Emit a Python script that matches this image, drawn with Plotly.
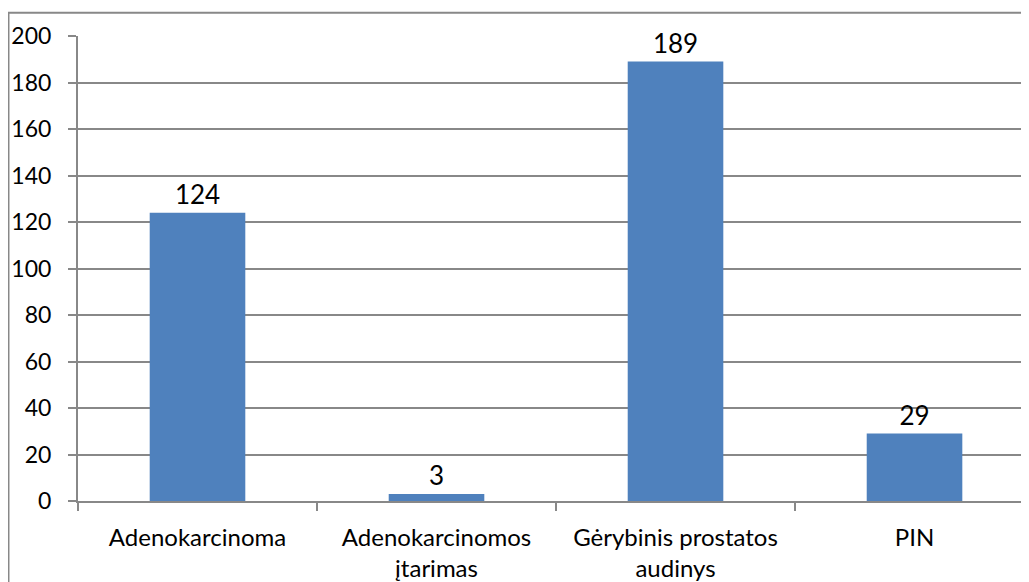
import plotly.graph_objects as go

categories = ["Adenokarcinoma", "Adenokarcinomos<br>įtarimas", "Gėrybinis prostatos<br>audinys", "PIN"]
values = [124, 3, 189, 29]
y_ticks = [0, 20, 40, 60, 80, 100, 120, 140, 160, 180, 200]

GRID = "#888888"
FONT = "Lato, 'Open Sans', sans-serif"

fig = go.Figure(go.Bar(
    x=categories, y=values, width=0.4,
    marker=dict(color="#4F81BD", line=dict(width=0)),
    text=[str(v) for v in values], textposition="outside",
    textfont=dict(size=26, color="black", family=FONT),
    cliponaxis=False,
))

fig.update_layout(
    width=1021, height=574,
    margin=dict(l=70, r=0, t=28, b=78),
    paper_bgcolor="white", plot_bgcolor="white",
    font=dict(family=FONT, size=23, color="black"),
    showlegend=False,
    bargap=0.6,
)
fig.update_xaxes(
    range=[-0.5, 3.479], showline=True, linecolor=GRID, linewidth=2,
    ticks="outside", tickson="boundaries", ticklen=8, tickcolor=GRID, tickwidth=2,
    showgrid=False, tickfont=dict(size=24), ticklabelstandoff=14,
)
fig.update_yaxes(
    range=[0, 200], tickvals=y_ticks, showline=True, linecolor=GRID, linewidth=2,
    ticks="outside", ticklen=8, tickcolor=GRID, tickwidth=2,
    showgrid=True, gridcolor=GRID, gridwidth=2, zeroline=False,
    tickfont=dict(size=23), ticklabelstandoff=12,
)
fig.add_shape(type="rect", xref="paper", yref="paper",
              x0=-0.0731, x1=1.2, y0=-0.4, y1=1.0502,
              line=dict(color=GRID, width=2), fillcolor="rgba(0,0,0,0)", layer="above")

fig.write_html("out.html")
